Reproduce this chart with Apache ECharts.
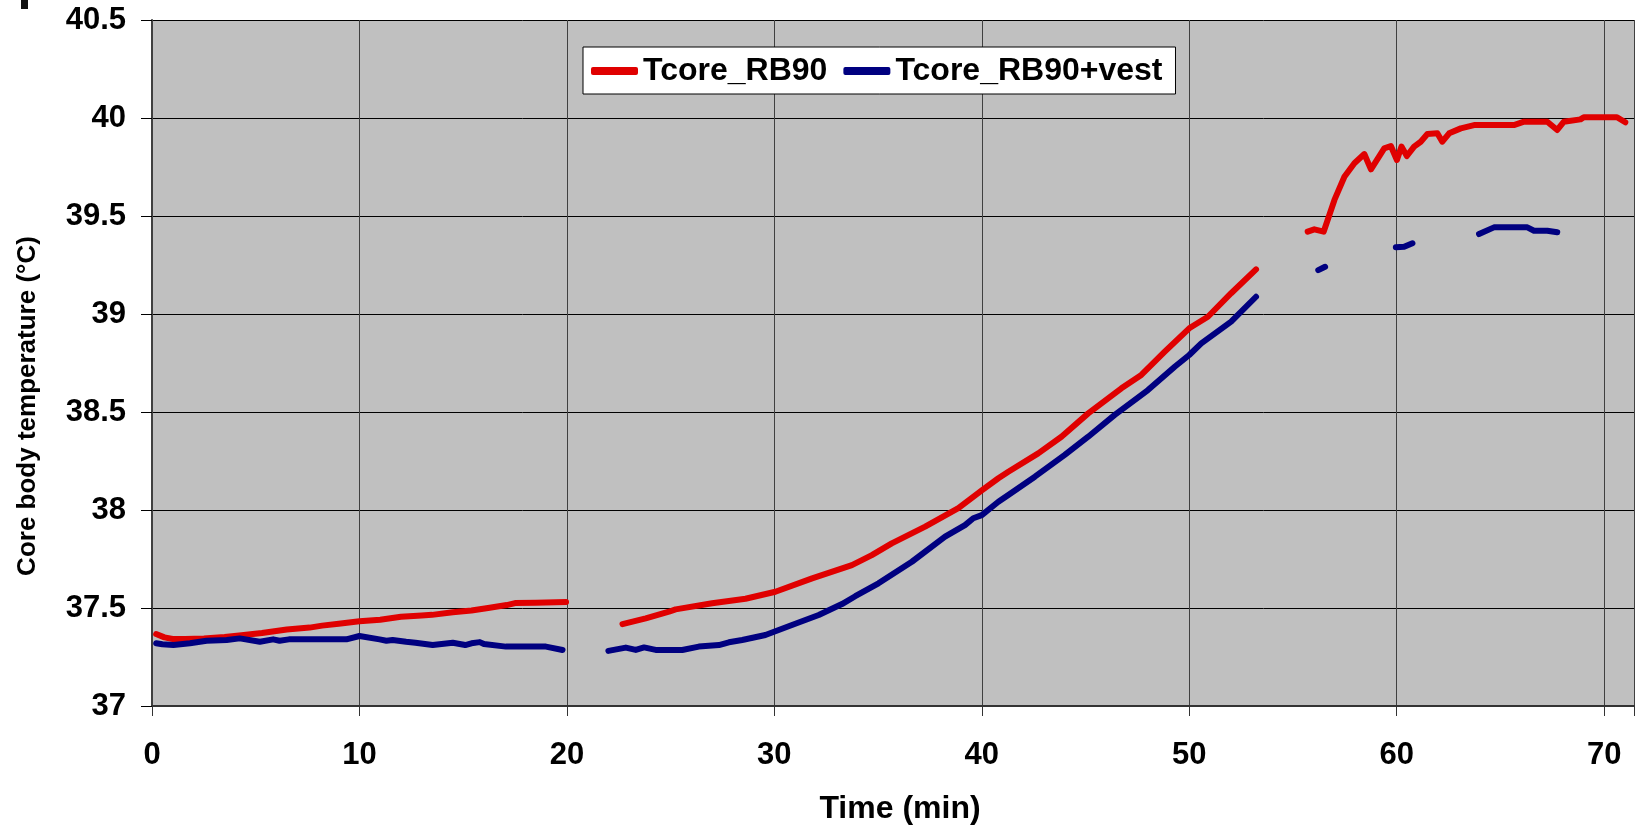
<!DOCTYPE html>
<html>
<head>
<meta charset="utf-8">
<script src="https://cdn.jsdelivr.net/npm/echarts@6/dist/echarts.min.js"></script>
<style>
  html, body { margin: 0; padding: 0; background: #ffffff; }
  #chart { width: 1637px; height: 829px; }
</style>
</head>
<body>
<div id="chart"></div>
<script>
// time (min) / core temperature (°C); null marks a gap in the recording
const redTime = [0.2, 0.6, 1.0, 1.6, 2.5, 3.5, 4.2, 5.3, 6.5, 7.6, 8.2, 9.0, 10.0, 11.0, 12.0, 13.0, 13.5, 14.5, 15.4, 16.2, 17.1, 17.5, 18.5, 19.96,
  21,
  22.68, 23.8, 24.92, 25.24, 27.0, 28.61, 30.05, 31.82, 33.74, 34.7, 35.66, 37.27, 38.87, 40.0, 40.8, 41.28, 42.72, 43.84, 45.13, 46.73, 47.69, 48.82, 50.0, 50.9, 52.02, 53.22,
  54.5,
  55.71, 56.03, 56.48, 57.0, 57.48, 57.96, 58.44, 58.76, 59.4, 59.72, 60.01, 60.23, 60.49, 60.84, 61.16, 61.48, 61.96, 62.2, 62.53, 63.09, 63.73, 65.65, 66.14, 67.26, 67.74, 68.06, 68.86, 69.02, 70.62, 71.02]
const redTemp = [37.367, 37.35, 37.342, 37.342, 37.345, 37.352, 37.36, 37.372, 37.39, 37.40, 37.41, 37.42, 37.432, 37.44, 37.455, 37.462, 37.465, 37.478, 37.487, 37.50, 37.515, 37.525, 37.527, 37.53,
  null,
  37.418, 37.447, 37.481, 37.493, 37.524, 37.547, 37.583, 37.651, 37.719, 37.77, 37.83, 37.915, 38.009, 38.10, 38.162, 38.195, 38.289, 38.374, 38.493, 38.621, 38.689, 38.808, 38.927, 38.986, 39.106, 39.228,
  null,
  39.42, 39.432, 39.42, 39.582, 39.70, 39.769, 39.816, 39.738, 39.845, 39.857, 39.786, 39.854, 39.806, 39.854, 39.879, 39.918, 39.922, 39.879, 39.922, 39.947, 39.964, 39.964, 39.981, 39.981, 39.939, 39.981, 39.993, 40.004, 40.004, 39.978]

const blueTime = [0.2, 0.5, 1.03, 1.83, 2.63, 3.6, 4.23, 5.2, 5.84, 6.15, 6.6, 9.37, 10.0, 10.97, 11.3, 11.6, 12.25, 12.7, 13.53, 14.5, 15.1, 15.4, 15.8, 16.0, 17.06, 18.99, 19.79,
  21,
  22.0, 22.84, 23.32, 23.72, 24.28, 25.56, 26.36, 27.33, 27.81, 28.45, 29.57, 30.85, 32.14, 33.26, 33.9, 35.02, 36.63, 38.23, 39.19, 39.59, 40.0, 40.8, 41.28, 42.56, 44.0, 45.13, 46.41, 48.01, 49.3, 50.0, 50.58, 52.02, 53.22,
  54.5,
  56.22, 56.55,
  58,
  59.96, 60.36, 60.76,
  62,
  63.97, 64.69, 66.3, 66.62, 67.26, 67.74]
const blueTemp = [37.32, 37.315, 37.311, 37.32, 37.333, 37.337, 37.345, 37.328, 37.34, 37.333, 37.34, 37.34, 37.357, 37.34, 37.333, 37.337, 37.328, 37.323, 37.311, 37.323, 37.311, 37.32, 37.326, 37.316, 37.303, 37.303, 37.286,
  null,
  37.281, 37.298, 37.286, 37.299, 37.286, 37.286, 37.303, 37.311, 37.325, 37.337, 37.362, 37.413, 37.464, 37.52, 37.56, 37.626, 37.736, 37.864, 37.923, 37.958, 37.974, 38.042, 38.077, 38.17, 38.281, 38.374, 38.485, 38.612, 38.731, 38.791, 38.85, 38.961, 39.088,
  null,
  39.224, 39.241,
  null,
  39.34, 39.343, 39.361,
  null,
  39.408, 39.442, 39.442, 39.425, 39.425, 39.417]

const seriesNames = ['Tcore_RB90', 'Tcore_RB90+vest']
const FONT = '"Liberation Sans", Arial, sans-serif'

const pairs = (xs, ys) => xs.map((x, i) => [x, ys[i] === null ? '-' : ys[i]])

const chart = echarts.init(document.getElementById('chart'), null, { renderer: 'canvas' })

chart.setOption({
  backgroundColor: '#ffffff',
  animation: false,
  grid: {
    left: 152, right: 0, top: 20, bottom: 123,
    show: true, backgroundColor: '#c0c0c0', borderWidth: 0,
  },
  legend: {
    left: 583, top: 47,
    backgroundColor: '#ffffff',
    borderColor: '#000000',
    borderWidth: 1,
    padding: [6, 13, 5, 8],
    itemGap: 16,
    itemWidth: 47,
    itemHeight: 8,
    icon: 'roundRect',
    textStyle: { fontFamily: FONT, fontWeight: 'bold', fontSize: 32, color: '#000000', lineHeight: 36 },
    data: seriesNames,
  },
  xAxis: {
    type: 'value',
    min: 0,
    max: 71.44,
    interval: 10,
    axisLine: { show: true, lineStyle: { color: '#333333', width: 2 } },
    axisTick: { show: true, length: 10, lineStyle: { color: '#333333', width: 1 } },
    splitLine: { show: true, lineStyle: { color: '#404040', width: 1 } },
    axisLabel: {
      margin: 34,
      fontFamily: FONT, fontWeight: 'bold', fontSize: 31, color: '#000000',
      formatter: (v) => (v % 10 === 0 ? String(v) : ''),
    },
  },
  yAxis: {
    type: 'value',
    min: 37,
    max: 40.5,
    interval: 0.5,
    axisLine: { show: true, lineStyle: { color: '#404040', width: 2 } },
    axisTick: { show: true, length: 11, lineStyle: { color: '#000000', width: 1 } },
    splitLine: { show: true, lineStyle: { color: '#000000', width: 1 } },
    axisLabel: {
      margin: 26,
      fontFamily: FONT, fontWeight: 'bold', fontSize: 31, color: '#000000',
    },
  },
  graphic: [
    { type: 'rect', left: 21, top: 0, shape: { width: 7, height: 9 }, style: { fill: '#111111' } },
    {
      type: 'text', x: 28, y: 406, rotation: Math.PI / 2,
      style: {
        text: 'Core body temperature (°C)', align: 'center', verticalAlign: 'middle',
        font: 'bold 26px ' + FONT, fill: '#000000',
      },
    },
    {
      type: 'text', x: 900, y: 809,
      style: {
        text: 'Time (min)', align: 'center', verticalAlign: 'middle',
        font: 'bold 32px ' + FONT, fill: '#000000',
      },
    },
  ],
  series: [
    {
      name: seriesNames[0],
      type: 'line',
      showSymbol: false,
      symbol: 'none',
      connectNulls: false,
      color: '#e00000',
      lineStyle: { width: 6, color: '#e00000', cap: 'round', join: 'round' },
      data: pairs(redTime, redTemp),
    },
    {
      name: seriesNames[1],
      type: 'line',
      showSymbol: false,
      symbol: 'none',
      connectNulls: false,
      color: '#000080',
      lineStyle: { width: 6, color: '#000080', cap: 'round', join: 'round' },
      data: pairs(blueTime, blueTemp),
    },
  ],
})
</script>
</body>
</html>
